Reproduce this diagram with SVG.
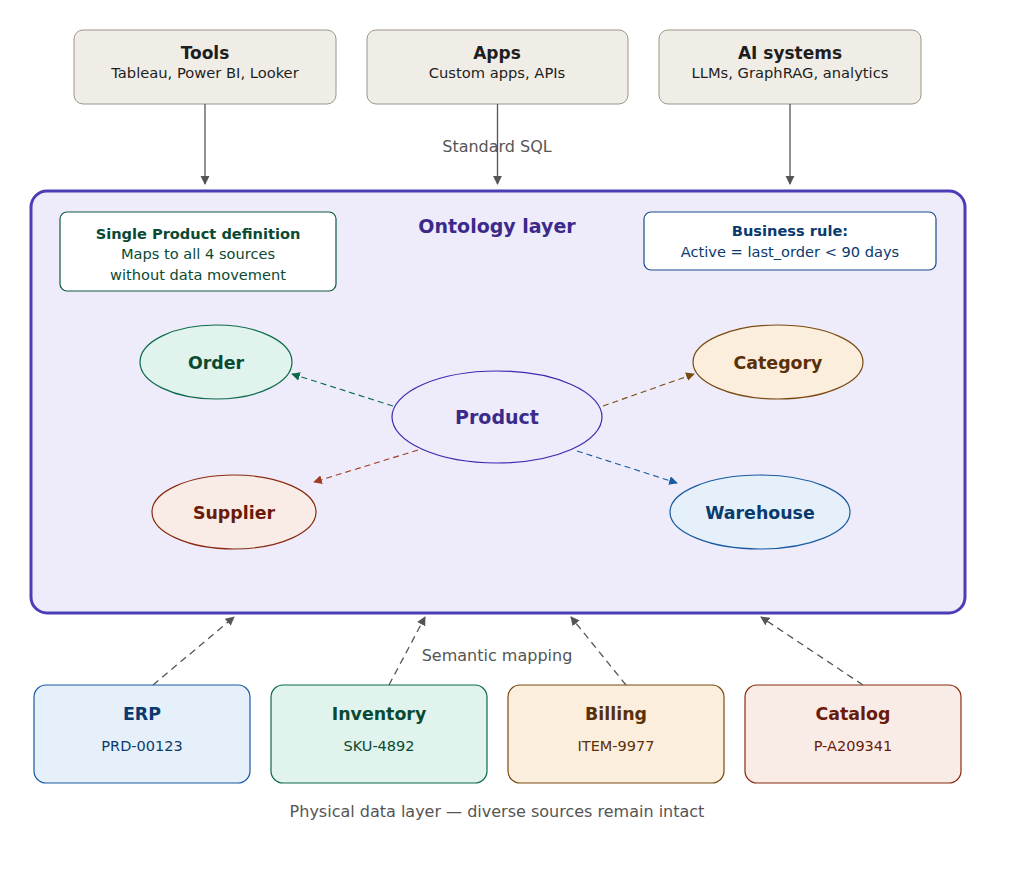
<svg xmlns="http://www.w3.org/2000/svg" width="1024" height="892" viewBox="0 0 1024 892">
<style>
text{font-family:"DejaVu Sans","Liberation Sans",sans-serif;text-anchor:middle}
.top{fill:#f0ede6;stroke:#9a9688;stroke-width:1}
.tt{font-size:17px;font-weight:bold;fill:#1e1e1e}
.ts{font-size:14.7px;fill:#1e1e1e}
.lbl{font-size:16px;fill:#555}
.ell{font-size:17.4px;font-weight:bold}
.bt{font-size:17.4px;font-weight:bold}
.bs{font-size:14.5px}
.nt{font-size:14.6px}
.solid{stroke:#555;stroke-width:1.3;fill:none}
.dash{stroke:#555;stroke-width:1.3;fill:none;stroke-dasharray:7,5}
.rel{stroke-width:1.1;fill:none;stroke-dasharray:6,4}
</style>
<defs>
<marker id="ag" viewBox="0 0 10 10" refX="9" refY="5" markerWidth="7" markerHeight="7" orient="auto"><path d="M0,0L10,5L0,10z" fill="#555"/></marker>
<marker id="agr" viewBox="0 0 10 10" refX="9" refY="5" markerWidth="8" markerHeight="8" orient="auto"><path d="M0,0L10,5L0,10z" fill="#0c6a4a"/></marker>
<marker id="abr" viewBox="0 0 10 10" refX="9" refY="5" markerWidth="8" markerHeight="8" orient="auto"><path d="M0,0L10,5L0,10z" fill="#7a4a10"/></marker>
<marker id="ard" viewBox="0 0 10 10" refX="9" refY="5" markerWidth="8" markerHeight="8" orient="auto"><path d="M0,0L10,5L0,10z" fill="#a03a20"/></marker>
<marker id="abl" viewBox="0 0 10 10" refX="9" refY="5" markerWidth="8" markerHeight="8" orient="auto"><path d="M0,0L10,5L0,10z" fill="#1a5aa0"/></marker>
</defs>
<rect width="1024" height="892" fill="#fff"/>

<g id="ontology">
<rect x="31" y="191" width="934" height="422" rx="16" fill="#eeecfb" stroke="#4a3db5" stroke-width="3"/>
<text x="497" y="233" font-size="19" font-weight="bold" fill="#3b2a8a">Ontology layer</text>
</g>

<g id="tools"><rect class="top" x="74" y="30" width="262" height="74" rx="9"/><text class="tt" x="205" y="59">Tools</text><text class="ts" x="205" y="78">Tableau, Power BI, Looker</text></g>
<g id="apps"><rect class="top" x="367" y="30" width="261" height="74" rx="9"/><text class="tt" x="497" y="59">Apps</text><text class="ts" x="497" y="78">Custom apps, APIs</text></g>
<g id="ai"><rect class="top" x="659" y="30" width="262" height="74" rx="9"/><text class="tt" x="790" y="59">AI systems</text><text class="ts" x="790" y="78">LLMs, GraphRAG, analytics</text></g>

<g id="note-single"><rect x="60" y="212" width="276" height="79" rx="7" fill="#fff" stroke="#0c5a3e" stroke-width="1.2"/>
<text class="nt" x="198" y="239" font-weight="bold" fill="#0a4a32">Single Product definition</text>
<text class="nt" x="198" y="259" fill="#0a4a32">Maps to all 4 sources</text>
<text class="nt" x="198" y="280" fill="#0a4a32">without data movement</text></g>

<g id="note-rule"><rect x="644" y="212" width="292" height="58" rx="7" fill="#fff" stroke="#1a4a8a" stroke-width="1.2"/>
<text class="nt" x="790" y="236" font-weight="bold" fill="#0a3a6e">Business rule:</text>
<text class="nt" x="790" y="257" fill="#0a3a6e">Active = last_order &lt; 90 days</text></g>

<g id="order"><ellipse cx="216" cy="362" rx="76" ry="37" fill="#e0f3ec" stroke="#0c6a4a" stroke-width="1.2"/><text class="ell" x="216" y="369" fill="#0a4a32">Order</text></g>
<g id="category"><ellipse cx="778" cy="362" rx="85" ry="37" fill="#fbeedd" stroke="#7a4a10" stroke-width="1.2"/><text class="ell" x="778" y="369" fill="#5a3008">Category</text></g>
<g id="product"><ellipse cx="497" cy="417" rx="105" ry="46" fill="#eeecfb" stroke="#3b2ab0" stroke-width="1.2"/><text x="497" y="424" font-size="19" font-weight="bold" fill="#3b2a8a">Product</text></g>
<g id="supplier"><ellipse cx="234" cy="512" rx="82" ry="37" fill="#f9ece6" stroke="#8a2a10" stroke-width="1.2"/><text class="ell" x="234" y="519" fill="#6a1a08">Supplier</text></g>
<g id="warehouse"><ellipse cx="760" cy="512" rx="90" ry="37" fill="#e6f0fa" stroke="#1a5aa0" stroke-width="1.2"/><text class="ell" x="760" y="519" fill="#0a3a6e">Warehouse</text></g>

<g id="erp"><rect x="34" y="685" width="216" height="98" rx="12" fill="#e6f0fa" stroke="#1a5aa0" stroke-width="1.2"/><text class="bt" x="142" y="720" fill="#0a3a6e">ERP</text><text class="bs" x="142" y="751" fill="#0a3a6e">PRD-00123</text></g>
<g id="inventory"><rect x="271" y="685" width="216" height="98" rx="12" fill="#e0f3ec" stroke="#0c6a4a" stroke-width="1.2"/><text class="bt" x="379" y="720" fill="#0a4a32">Inventory</text><text class="bs" x="379" y="751" fill="#0a4a32">SKU-4892</text></g>
<g id="billing"><rect x="508" y="685" width="216" height="98" rx="12" fill="#fbeedd" stroke="#7a4a10" stroke-width="1.2"/><text class="bt" x="616" y="720" fill="#5a3008">Billing</text><text class="bs" x="616" y="751" fill="#5a3008">ITEM-9977</text></g>
<g id="catalog"><rect x="745" y="685" width="216" height="98" rx="12" fill="#f9ece6" stroke="#8a2a10" stroke-width="1.2"/><text class="bt" x="853" y="720" fill="#6a1a08">Catalog</text><text class="bs" x="853" y="751" fill="#6a1a08">P-A209341</text></g>

<g id="connectors">
<line class="solid" x1="205" y1="104" x2="205" y2="184" marker-end="url(#ag)"/>
<line class="solid" x1="497.5" y1="104" x2="497.5" y2="184" marker-end="url(#ag)"/>
<line class="solid" x1="790" y1="104" x2="790" y2="184" marker-end="url(#ag)"/>
<text class="lbl" x="497" y="152">Standard SQL</text>

<line class="rel" stroke="#0c6a4a" x1="393" y1="406" x2="292" y2="374" marker-end="url(#agr)"/>
<line class="rel" stroke="#7a4a10" x1="603" y1="406" x2="694" y2="374" marker-end="url(#abr)"/>
<line class="rel" stroke="#a03a20" x1="418" y1="450" x2="314" y2="482" marker-end="url(#ard)"/>
<line class="rel" stroke="#1a5aa0" x1="577" y1="451" x2="677" y2="483" marker-end="url(#abl)"/>

<line class="dash" x1="153" y1="685" x2="234" y2="617" marker-end="url(#ag)"/>
<line class="dash" x1="389" y1="685" x2="425" y2="617" marker-end="url(#ag)"/>
<line class="dash" x1="626" y1="685" x2="571" y2="617" marker-end="url(#ag)"/>
<line class="dash" x1="863" y1="685" x2="761" y2="617" marker-end="url(#ag)"/>
<text class="lbl" x="497" y="661">Semantic mapping</text>
</g>
<text class="lbl" x="497" y="817">Physical data layer — diverse sources remain intact</text>
</svg>
